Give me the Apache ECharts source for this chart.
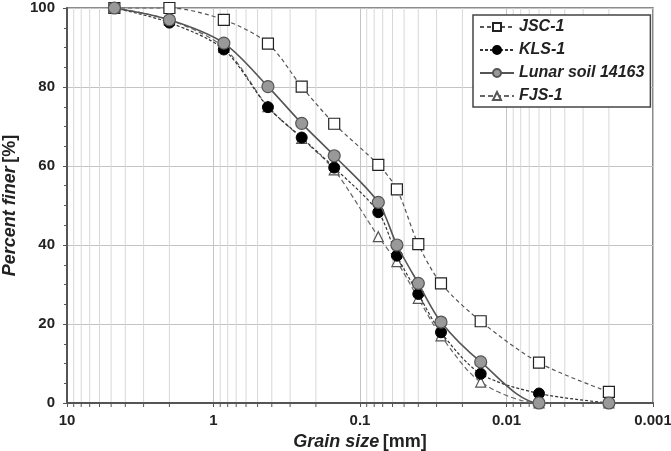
<!DOCTYPE html>
<html>
<head>
<meta charset="utf-8">
<script src="https://cdn.jsdelivr.net/npm/echarts@6/dist/echarts.min.js"></script>
<style>
  html, body { margin: 0; padding: 0; background: #fff; }
  #chart { width: 671px; height: 451px; }
</style>
</head>
<body>
<div id="chart"></div>
<script>
// grain size [mm] of each sieve / hydrometer reading
var grainSize = [4.75, 2.0, 0.85, 0.425, 0.25, 0.15, 0.075, 0.056, 0.04, 0.028, 0.015, 0.006, 0.002];
// percent finer
var jsc1 = [100, 100, 97, 91, 80.1, 70.7, 60.3, 54.1, 40.2, 30.3, 20.7, 10.2, 2.8];
var kls1 = [100, 96.3, 89.5, 74.9, 67.2, 59.6, 48.3, 37.3, 27.6, 17.9, 7.4, 2.4, 0];
var lunar14163 = [100, 97, 91.1, 80.1, 70.8, 62.6, 50.8, 40, 30.3, 20.5, 10.4, 0, 0];
var fjs1 = [100, 97, 90, 75, 67, 59, 42.1, 35.8, 26.5, 17, 5.3, 0, 0];

var xTickValues = [10, 1, 0.1, 0.01, 0.001];
var xTickLabels = ['10', '1', '0.1', '0.01', '0.001'];
var decades = [1, 0.1, 0.01, 0.001];
var minorSteps = [2, 3, 4, 5, 6, 7, 8, 9];

function pairs(ys) {
    return grainSize.map(function (x, i) { return [x, ys[i]]; });
}

var minorData = [];
decades.forEach(function (d) {
    minorSteps.forEach(function (m) { minorData.push([d * m, 0]); });
});

var chart = echarts.init(document.getElementById('chart'));
var bold = { fontFamily: 'Liberation Sans, Arial, sans-serif', fontWeight: 'bold', color: '#222' };

var option = {
    animation: false,
    grid: {
        left: 67, right: 18, top: 8, bottom: 48,
        containLabel: false,
        outerBoundsMode: 'none',
        show: true, borderColor: '#666', borderWidth: 1.5
    },
    legend: {
        orient: 'vertical',
        left: 473, top: 15,
        padding: [4, 6, 3, 6],
        itemGap: 7,
        itemWidth: 34,
        itemHeight: 10,
        backgroundColor: '#fff',
        borderColor: '#444',
        borderWidth: 1.5,
        data: ['JSC-1', 'KLS-1', 'Lunar soil 14163', 'FJS-1'],
        textStyle: {
            fontFamily: 'Liberation Sans, Arial, sans-serif',
            fontWeight: 'bold', fontStyle: 'italic', fontSize: 16, color: '#222'
        }
    },
    xAxis: {
        type: 'log',
        logBase: 10,
        min: 0.001,
        max: 10,
        inverse: true,
        name: '{i|Grain size} {n|[mm]}',
        nameLocation: 'middle',
        nameGap: 29,
        nameTextStyle: {
            rich: {
                i: Object.assign({ fontSize: 18, fontStyle: 'italic' }, bold),
                n: Object.assign({ fontSize: 18 }, bold)
            }
        },
        axisLine: { lineStyle: { color: '#555', width: 2 } },
        axisTick: { show: true, length: 4, lineStyle: { color: '#555' } },
        axisLabel: Object.assign({
            fontSize: 15, margin: 10,
            formatter: function (v) {
                var i = xTickValues.findIndex(function (t) { return Math.abs(Math.log10(t) - Math.log10(v)) < 1e-6; });
                return i >= 0 ? xTickLabels[i] : '';
            }
        }, bold),
        splitLine: { show: true, lineStyle: { color: '#c4c4c4', width: 1 } }
    },
    yAxis: {
        type: 'value',
        min: 0, max: 100, interval: 20,
        name: '{i|Percent finer} {n|[%]}',
        nameLocation: 'middle',
        nameGap: 43,
        nameTextStyle: {
            rich: {
                i: Object.assign({ fontSize: 18, fontStyle: 'italic' }, bold),
                n: Object.assign({ fontSize: 18 }, bold)
            }
        },
        axisLine: { show: true, lineStyle: { color: '#555', width: 2 } },
        axisTick: { show: true, length: 4, lineStyle: { color: '#555' } },
        minorTick: { show: true, splitNumber: 4, length: 3, lineStyle: { color: '#555' } },
        axisLabel: Object.assign({ fontSize: 15, margin: 12 }, bold),
        splitLine: { show: true, lineStyle: { color: '#c4c4c4', width: 1 } }
    },
    series: [
        {
            // minor log grid lines + ticks
            type: 'custom',
            silent: true,
            clip: false,
            z: 0,
            data: minorData,
            renderItem: function (params, api) {
                var v = api.value(0);
                var top = api.coord([v, 100]);
                var bot = api.coord([v, 0]);
                return {
                    type: 'group',
                    children: [
                        { type: 'line', shape: { x1: top[0], y1: top[1], x2: bot[0], y2: bot[1] },
                          style: { stroke: '#d8d8d8', lineWidth: 1 } },
                        { type: 'line', shape: { x1: bot[0], y1: bot[1], x2: bot[0], y2: bot[1] + 4 },
                          style: { stroke: '#555', lineWidth: 1 } }
                    ]
                };
            }
        },
        {
            name: 'JSC-1', type: 'line', smooth: 0.3, z: 3,
            data: pairs(jsc1),
            symbol: 'rect', symbolSize: 11,
            lineStyle: { color: '#555', width: 1.2, type: [4, 3] },
            itemStyle: { color: '#fff', borderColor: '#222', borderWidth: 1.2 }
        },
        {
            name: 'KLS-1', type: 'line', smooth: 0.3, z: 4,
            data: pairs(kls1),
            symbol: 'circle', symbolSize: 11,
            lineStyle: { color: '#333', width: 1.2, type: [3, 2] },
            itemStyle: { color: '#000', borderColor: '#000', borderWidth: 1 }
        },
        {
            name: 'Lunar soil 14163', type: 'line', smooth: 0.3, z: 5,
            data: pairs(lunar14163),
            symbol: 'circle', symbolSize: 12,
            lineStyle: { color: '#555', width: 1.6, type: 'solid' },
            itemStyle: { color: '#999', borderColor: '#555', borderWidth: 1.2 }
        },
        {
            name: 'FJS-1', type: 'line', smooth: 0.3, z: 2,
            data: pairs(fjs1),
            symbol: 'triangle', symbolSize: 10,
            lineStyle: { color: '#666', width: 1.2, type: [5, 3] },
            itemStyle: { color: '#fff', borderColor: '#555', borderWidth: 1.2 }
        }
    ]
};

chart.setOption(option);
</script>
</body>
</html>
